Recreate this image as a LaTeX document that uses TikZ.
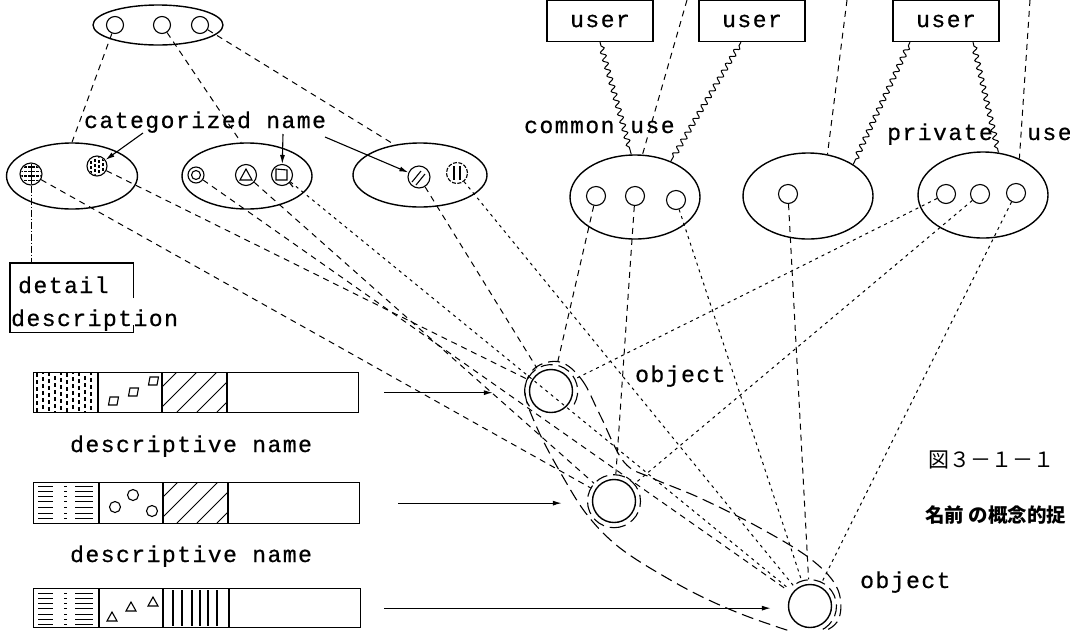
\documentclass[tikz,border=0pt]{standalone}
\usepackage{fontspec}
\newfontfamily\tw[LetterSpace=6.5,FakeBold=0.6]{Liberation Mono}
\newfontfamily\cjk{Noto Sans CJK JP}
\usetikzlibrary{shapes.geometric,decorations.pathmorphing,arrows.meta,calc}
\begin{document}
\begin{tikzpicture}[x=1pt,y=-1pt,
  ell/.style={draw, ellipse, line width=1.4pt, inner sep=0},
  sc/.style={draw, circle, line width=1.1pt, minimum size=19pt, inner sep=0},
  ubox/.style={draw, rectangle, line width=1.3pt, minimum width=106pt, minimum height=41pt, inner sep=0, font=\tw\fontsize{23}{23}\selectfont},
  obj/.style={draw, circle, line width=1.4pt, minimum size=43pt, inner sep=0},
  ring/.style={circle, minimum size=53pt, inner sep=0},
  md/.style={line width=1pt, dash pattern=on 6pt off 5pt},
  sd/.style={line width=1pt, dash pattern=on 3pt off 4pt},
  ld/.style={line width=1.1pt, dash pattern=on 12pt off 6pt},
  wavy/.style={line width=1pt, decorate, decoration={snake, amplitude=2.5pt, segment length=8pt, pre length=4pt, post length=4pt}},
  lbl/.style={font=\tw\fontsize{23}{23}\selectfont, inner sep=0},
  barbox/.style={draw, line width=1.3pt, inner sep=0, anchor=north west},
  arr/.style={-{Latex[length=9pt,width=5pt]}, line width=1.1pt},
]
\useasboundingbox (0,0) rectangle (1070,630);

% ---------- top ellipse ----------
\node[ell, minimum width=130pt, minimum height=40pt] (T) at (158,25) {};
\node[sc, minimum size=17pt] (T1) at (115,25) {};
\node[sc, minimum size=17pt] (T2) at (162,25) {};
\node[sc, minimum size=17pt] (T3) at (200,25) {};

% ---------- left ellipses ----------
\node[ell, minimum width=131pt, minimum height=66pt] (E1) at (72,176) {};
\node[ell, minimum width=130pt, minimum height=66pt] (E2) at (247,176) {};
\node[ell, minimum width=134pt, minimum height=64pt] (E3) at (420,175) {};

\node[sc, minimum size=22pt] (cA) at (31,174) {};
\node[sc, minimum size=20pt] (cB) at (97,166) {};
\node[sc, minimum size=16pt] (cC) at (196,175) {};
\node[sc, minimum size=21pt] (cD) at (246,175) {};
\node[sc, minimum size=21pt] (cE) at (282,175) {};
\node[sc, minimum size=22pt] (cF) at (419,177) {};
\node[sc, minimum size=21pt, dash pattern=on 4pt off 1.5pt] (cG) at (457,173) {};

% glyph interiors
\begin{scope}
  \clip (31,174) circle (10pt);
  \foreach \y in {167,171.5,176,180.5}
    \draw[line width=1.3pt, dash pattern=on 2.5pt off 1.5pt] (20,\y) -- (42,\y);
  \draw[line width=0.9pt] (31,163) -- (31,185);
\end{scope}
\begin{scope}
  \clip (97,166) circle (9pt);
  \foreach \x/\p in {91/0,95/2,99/1,103/3}
    \draw[line width=1.1pt, dash pattern=on 3pt off 2pt, dash phase=\p pt] (\x,156) -- (\x,176);
\end{scope}
\draw[line width=1.1pt] (cC) circle (4.5pt);
\draw[line width=1.1pt] (240,180) -- (252,180) -- (246,169) -- cycle;
\draw[line width=1.1pt] (276,169) -- (287,170) -- (287,180) -- (276,180) -- cycle;
\draw[line width=1.1pt] (289,182) -- (293,187);
\draw[line width=1.1pt] (412,182) -- (421,171);
\draw[line width=1.1pt] (416,185) -- (425,174);
\draw[line width=1.1pt] (454,166) -- (454,180);
\draw[line width=1.1pt] (460,166) -- (460,180);

% top ellipse to left ellipses
\draw[md] (T1) -- (E1.north);
\draw[md] (T2) -- (E2.100);
\draw[md] (T3) -- (E3.130);

% categorized name
\node[lbl, anchor=base west] (tCat) at (84,128) {categorized name};
\coordinate (cn1) at (143,133);
\coordinate (cn2) at (283,134);
\coordinate (cn3) at (325,137);
\draw[arr] (cn1) -- (cB);
\draw[arr] (cn2) -- (cE);
\draw[arr] (cn3) -- (cF);

% detail description
\node[inner sep=0, minimum width=123pt, minimum height=69pt, anchor=north west] (DB) at (10,263) {};
\draw[line width=1.2pt] (DB.north east |- 0,298) -- (DB.north east) -- (DB.north west) -- (DB.south west) -- (DB.south east) -- (DB.south east |- 0,325);
\node[lbl, anchor=base west] (tDet) at (18,293) {detail};
\node[lbl, anchor=base west] (tDesc) at (11,326) {description};
\draw[line width=0.9pt, dash pattern=on 7pt off 2pt on 1pt off 2pt] (cA) -- (cA |- DB.north);

% ---------- users ----------
\node[ubox] (U1) at (600,21) {user};
\node[ubox] (U2) at (752,21) {user};
\node[ubox] (U3) at (946,21) {user};

% ---------- right ellipses ----------
\node[ell, minimum width=130pt, minimum height=84pt] (A) at (635,197) {};
\node[ell, minimum width=130pt, minimum height=86pt] (B) at (808,196) {};
\node[ell, minimum width=130pt, minimum height=86pt] (C) at (983,195) {};
\node[sc] (A1) at (596,196) {};
\node[sc] (A2) at (635,196) {};
\node[sc] (A3) at (676,200) {};
\node[sc] (B1) at (788,194) {};
\node[sc] (C1) at (946,194) {};
\node[sc] (C2) at (980,194) {};
\node[sc] (C3) at (1016,193) {};

\draw[wavy] (U1.south) -- (A.95);
\draw[wavy] ($(U2.south)+(-11,0)$) -- (A.45);
\draw[wavy] ($(U3.south)+(-36,0)$) -- (B.35);
\draw[wavy] ($(U3.south)+(27,0)$) -- (C.70);

\node[lbl, anchor=base west] (tCom) at (524,133) {common};
\node[lbl, anchor=base west] (tUse1) at (630,133) {use};
\node[lbl, anchor=base west] (tPriv) at (887,140) {private};
\node[lbl, anchor=base west] (tUse2) at (1027,140) {use};

\coordinate (tA) at (687,0);
\coordinate (tB) at (847,0);
\coordinate (tC) at (1030,0);
\draw[md] (tA) -- (A.80);
\draw[md] (tB) -- (B.65);
\draw[md] (tC) -- (C.45);

% ---------- objects ----------
\node[obj] (O1) at (551,391) {};
\node[obj] (O2) at (614,501) {};
\node[obj] (O3) at (810,606) {};
\node[ring] (R1) at (551,391) {};
\node[ring] (R2) at (614,501) {};
\node[ring] (R3) at (810,606) {};
\draw[ld] (R1.-30) arc[start angle=-30, end angle=215, radius=26.5pt];
\draw[ld] (R2.-90) arc[start angle=-90, end angle=270, radius=26.5pt];
\draw[ld] (R3.-100) arc[start angle=-100, end angle=125, radius=26.5pt];
\node[lbl, anchor=base west] (tObj1) at (635,382) {object};
\node[lbl, anchor=base west] (tObj2) at (860,588) {object};

\draw[ld] plot[smooth cycle, tension=0.6] coordinates {(560,362) (582,380) (600,415) (624,462) (652,478) (700,498) (760,528) (812,560) (838,590) (837,622) (808,634) (763,622) (713,602) (667,578) (620,548) (588,516) (563,477) (538,430) (525,392) (535,368)};

% lines from left categorized names to objects
\draw[md] (cA) -- (R2);
\draw[md] (cB) -- (R1);
\draw[md] (cC) -- (R3);
\draw[md] (cD) -- (R2);
\draw[sd] (cE) -- (R3);
\draw[md] (cF) -- (R1);
\draw[sd] (cG) -- (R3);

% lines from right ellipses to objects
\draw[md] (A1) -- (R1);
\draw[md] (A2) -- (R2);
\draw[sd] (A3) -- (R3);
\draw[md] (B1) -- (R3);
\draw[sd] (C1) -- (R1);
\draw[sd] (C2) -- (R2);
\draw[sd] (C3) -- (R3);

% ---------- bars ----------
\node[barbox, minimum width=325pt, minimum height=40pt] (BR1) at (33,372) {};
\node[barbox, minimum width=326pt, minimum height=41pt] (BR2) at (33,482) {};
\node[barbox, minimum width=327pt, minimum height=39pt] (BR3) at (33,588) {};
\foreach \x in {98,162,227} \draw[line width=1.2pt] (\x,372) -- (\x,412);
\foreach \x in {99,163,228} \draw[line width=1.2pt] (\x,482) -- (\x,523);
\foreach \x in {99,163,229} \draw[line width=1.2pt] (\x,588) -- (\x,627);

% bar 1 fill
\begin{scope}
  \clip (33,372) rectangle (98,412);
  \foreach \x/\p in {37/0,43/3,49/1,55/4,61/2,67/0,73/3,79/1,85/4,91/2}
    \draw[line width=1.2pt, dash pattern=on 4pt off 3pt, dash phase=\p pt] (\x,373) -- (\x,412);
\end{scope}
\foreach \x/\y in {113/401,133/392,153/381}
  \draw[line width=1.1pt] (\x-4.5,\y+4) -- (\x+4,\y+4) -- (\x+5.5,\y-4) -- (\x-3,\y-4) -- cycle;
\begin{scope}
  \clip (162,372) rectangle (227,412);
  \foreach \b in {137,157,177,197,217}
    \draw[line width=0.9pt] (\b,412) -- ++(45,-45);
\end{scope}

% bar 2 fill
\foreach \y in {486,491,496,501,507,513,518}
  {\draw[line width=0.9pt] (38,\y) -- (53,\y); \draw[line width=0.9pt] (64,\y) -- (67,\y); \draw[line width=0.9pt] (75,\y) -- (93,\y);}
\foreach \x/\y in {115/507,133/495,152/511}
  \draw[line width=1.1pt] (\x,\y) circle (5.5pt);
\begin{scope}
  \clip (163,482) rectangle (228,523);
  \foreach \b in {137,157,177,197,217}
    \draw[line width=0.9pt] (\b,523) -- ++(45,-45);
\end{scope}

% bar 3 fill
\foreach \y in {593,598,603,608,614,619,624}
  {\draw[line width=0.9pt] (38,\y) -- (53,\y); \draw[line width=0.9pt] (64,\y) -- (67,\y); \draw[line width=0.9pt] (75,\y) -- (93,\y);}
\foreach \x/\y in {112/617,131/607,153/602}
  \draw[line width=1.1pt] (\x-5,\y+4) -- (\x+5,\y+4) -- (\x,\y-5) -- cycle;
\foreach \x in {173,182,192,200,208,217}
  \draw[line width=1.1pt] (\x,590) -- (\x,626);

\node[lbl, anchor=base west] (tDn1) at (70,452) {descriptive name};
\node[lbl, anchor=base west] (tDn2) at (70,562) {descriptive name};

% arrows from bars to objects
\draw[arr, shorten <=25pt, shorten >=36pt] (BR1.east) -- (BR1.east -| O1.west);
\draw[arr, shorten <=38pt, shorten >=30pt] (BR2.east) -- (BR2.east -| O2.west);
\draw[arr, shorten <=23pt, shorten >=17pt] (BR3.east) -- (BR3.east -| O3.west);

% ---------- caption ----------
\node[inner sep=0, font=\cjk\fontsize{21}{21}\selectfont] (cap1) at (991,460) {図３－１－１};
\node[inner sep=0, anchor=west, font=\cjk\bfseries\fontsize{19.5}{19.5}\selectfont] (cap2) at (925,515) {名前 の概念的捉};
\end{tikzpicture}
\end{document}
